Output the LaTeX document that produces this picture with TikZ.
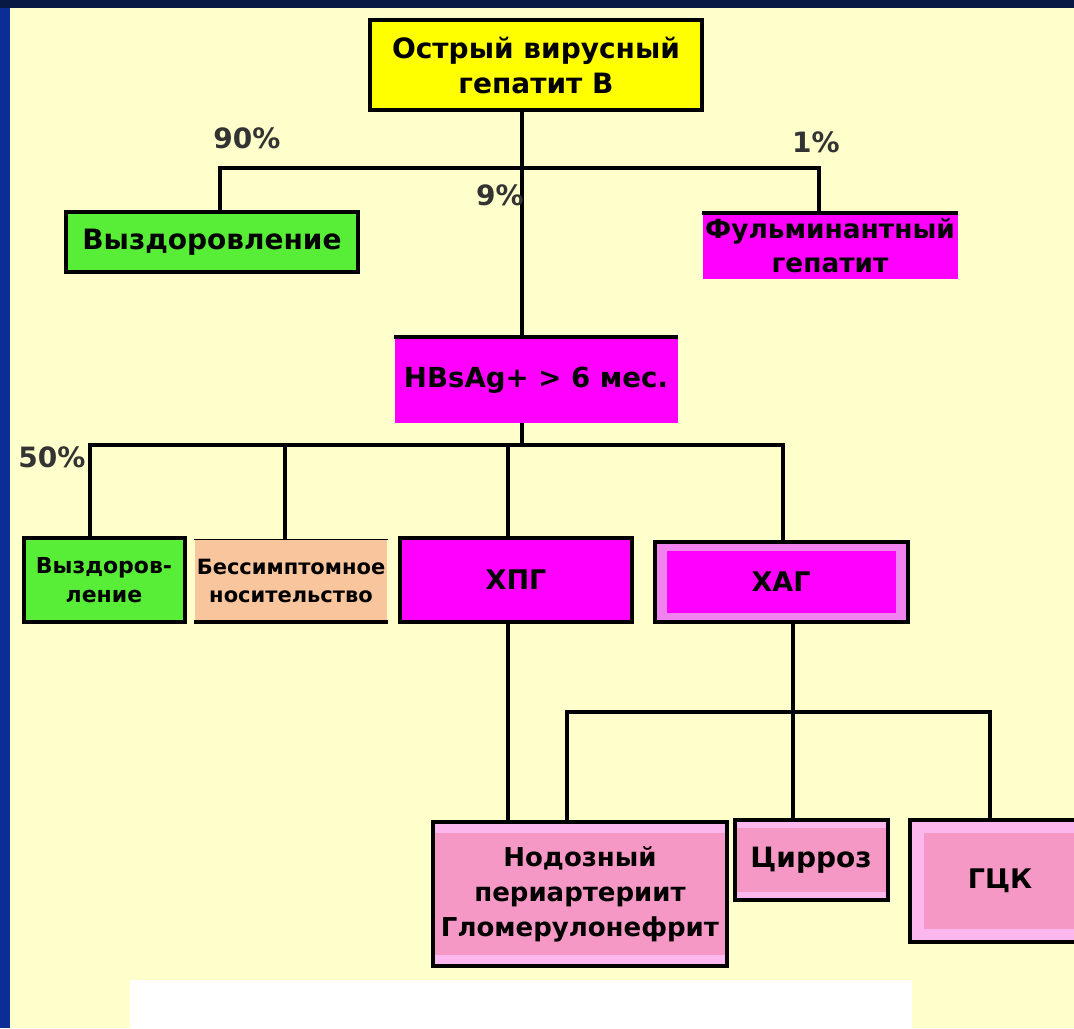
\documentclass[tikz,border=0pt]{standalone}
\usepackage{fontspec}
\setmainfont{DejaVu Sans}
\usetikzlibrary{positioning, calc}

\definecolor{paper}{HTML}{FFFFCC}
\definecolor{frameblue}{HTML}{0A2E96}
\definecolor{framenavy}{HTML}{081A44}
\definecolor{hepyellow}{HTML}{FFFF00}
\definecolor{curegreen}{HTML}{58EE38}
\definecolor{hepmagenta}{HTML}{FF00FF}
\definecolor{hepviolet}{HTML}{F083F0}
\definecolor{heppink}{HTML}{F598C6}
\definecolor{lightpink}{HTML}{FCB8EE}
\definecolor{peach}{HTML}{F9C59C}

\begin{document}
\begin{tikzpicture}[
			x=0.5pt, y=-0.5pt,
			box/.style={rectangle, draw=black, line width=2pt, inner sep=1pt, align=center, font=\bfseries\fontsize{14}{17.5}\selectfont},
			bare/.style={rectangle, draw=none, inner sep=1pt, align=center, font=\bfseries\fontsize{14}{17.5}\selectfont},
			inset/.style 2 args={path picture={\fill[#1] ($(path picture bounding box.north west)+(#2)$) rectangle ($(path picture bounding box.south east)-(#2)$);}},
			link/.style={draw=black, line width=2pt},
			perc/.style={font=\bfseries\fontsize{14}{15}\selectfont, text=black!80, inner sep=0pt}
			]
			\useasboundingbox (0,0) rectangle (1074,1028);
			\clip (0,0) rectangle (1074,1028);
			
			% slide background
			\fill[paper] (0,0) rectangle (1074,1028);
			\fill[frameblue] (0,0) rectangle (10,1028);
			\fill[framenavy] (0,0) rectangle (1074,8);
			\fill[white] (130,980) rectangle (912,1028);
			
			% first level
			\node[box, fill=hepyellow, minimum width=166pt, minimum height=45pt] (acute) at (536,65) {Острый вирусный\\гепатит В};
			\node[box, fill=curegreen, minimum width=146pt, minimum height=30pt] (cure1) at (212,242) {Выздоровление};
			\node[bare, fill=hepmagenta, minimum width=127.5pt, minimum height=33pt, font=\bfseries\fontsize{13.2}{17}\selectfont] (fulminant) at (830,246) {Фульминантный\\гепатит};
			\node[bare, fill=hepmagenta, minimum width=141.5pt, minimum height=42.5pt, font=\bfseries\fontsize{13.8}{15}\selectfont] (hbsag) at (536,380) {HBsAg+ > 6 мес.};
			\draw[line width=2pt] (fulminant.north west) -- (fulminant.north east);
			\draw[line width=2pt] (hbsag.north west) -- (hbsag.north east);
			
			% second level
			\node[box, fill=curegreen, minimum width=80.5pt, minimum height=42pt, font=\bfseries\fontsize{11}{14.5}\selectfont] (cure2) at (104,580) {Выздоров-\\ление};
			\node[bare, fill=peach, minimum width=89pt, minimum height=41pt, font=\bfseries\fontsize{10.5}{14}\selectfont] (carrier) at (291,581) {Бессимптомное\\носительство};
			\draw[line width=2pt] (carrier.south west) -- (carrier.south east);
			\draw[line width=0.6pt] (carrier.north west) -- (carrier.north east);
			\node[box, fill=hepmagenta, minimum width=116pt, minimum height=42pt, font=\bfseries\fontsize{13.5}{14}\selectfont] (cph) at (516,580) {ХПГ};
			\node[box, fill=hepviolet, inset={hepmagenta}{12,9}, minimum width=126.5pt, minimum height=40pt, font=\bfseries\fontsize{13.5}{14}\selectfont] (cah) at (781,582) {ХАГ};
			
			% outcomes
			\node[box, fill=lightpink, inset={heppink}{0,11}, minimum width=147pt, minimum height=72pt, font=\bfseries\fontsize{13}{17.5}\selectfont] (nodosa) at (580,894) {Нодозный\\периартериит\\Гломерулонефрит};
			\node[box, fill=lightpink, inset={heppink}{0,8}, minimum width=76.5pt, minimum height=40pt, font=\bfseries\fontsize{14}{15}\selectfont] (cirrhosis) at (811,860) {Цирроз};
			\node[box, fill=lightpink, inset={heppink}{14,13}, minimum width=90pt, minimum height=61pt, font=\bfseries\fontsize{13.5}{15}\selectfont] (hcc) at (1000,881) {ГЦК};
			
			% connectors
			\coordinate (trunk) at (522,168);
			\coordinate (split) at (522,445);
			\coordinate (fork) at (793,712);
			\draw[link] (acute.south -| trunk) -- (hbsag.north -| trunk);
			\draw[link] ([xshift=4pt]cure1.north) |- (trunk) -| ([xshift=-5.5pt]fulminant.north);
			\draw[link] (hbsag.south -| split) -- (split);
			\draw[link] ([xshift=-7pt]cure2.north) |- (split) -| ([xshift=1pt]cah.north);
			\draw[link] ([xshift=-3pt]carrier.north) |- (split);
			\draw[link] ([xshift=-4pt]cph.north) |- (split);
			\draw[link] ([xshift=-4pt]cph.south) -- ([xshift=-4pt]cph.south |- nodosa.north);
			\draw[link] ([xshift=6pt]cah.south) -- ([xshift=6pt]cah.south |- cirrhosis.north);
			\draw[link] ([xshift=-6.5pt]nodosa.north) |- (fork) -| ([xshift=-5pt]hcc.north);
			
			% shares
			\node[perc] (p90) at (247,138) {90\%};
			\node[perc] (p1) at (816,142) {1\%};
			\node[perc] (p9) at (500,195) {9\%};
			\node[perc] (p50) at (52,457) {50\%};
		\end{tikzpicture}
\end{document}
